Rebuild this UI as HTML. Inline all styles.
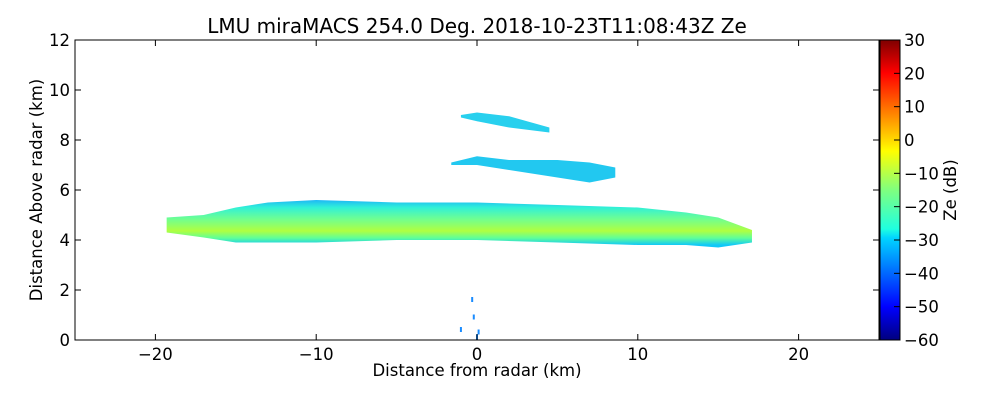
<!DOCTYPE html>
<html><head><meta charset="utf-8"><style>
body{margin:0;background:#fff}
svg text{font-family:"DejaVu Sans","Liberation Sans",sans-serif;fill:#000}
</style></head><body>
<svg id="chart" width="1000" height="400" viewBox="0 0 1000 400">
<defs>
<linearGradient id="jet" x1="0" y1="1" x2="0" y2="0">
<stop offset="0" stop-color="#00007f"/><stop offset="0.11" stop-color="#0000ff"/>
<stop offset="0.34" stop-color="#00d4ff"/><stop offset="0.37" stop-color="#1fffe0"/>
<stop offset="0.5" stop-color="#7fff7f"/><stop offset="0.63" stop-color="#ffff00"/>
<stop offset="0.66" stop-color="#ffe000"/>
<stop offset="0.89" stop-color="#ff0000"/><stop offset="1" stop-color="#7f0000"/>
</linearGradient>
<linearGradient id="band" gradientUnits="userSpaceOnUse" x1="0" y1="198" x2="0" y2="245">
<stop offset="0" stop-color="#1aa8ff"/><stop offset="0.2" stop-color="#30f0d8"/>
<stop offset="0.45" stop-color="#70ff90"/><stop offset="0.7" stop-color="#b0ff40"/>
<stop offset="0.85" stop-color="#60ff98"/><stop offset="1" stop-color="#10c8f8"/>
</linearGradient>
</defs>
<g id="marks"></g>
<g id="axes"></g>
</svg>
<script>
const xTicks=[-20,-10,0,10,20];
const yTicks=[0,2,4,6,8,10,12];
const cbTicks=[-60,-50,-40,-30,-20,-10,0,10,20,30];
// layers: x (km), top and bottom height (km)
const bandX=[-19.3,-17,-15,-13,-10,-5,0,5,10,13,15,17.1];
const bandTop=[4.9,5.0,5.3,5.5,5.6,5.5,5.5,5.4,5.3,5.1,4.9,4.4];
const bandBot=[4.3,4.1,3.9,3.9,3.9,4.0,4.0,3.9,3.8,3.8,3.7,3.9];
const l1X=[-1.6,0,2,5,7,8.6];
const l1Top=[7.1,7.35,7.2,7.2,7.1,6.9];
const l1Bot=[7.0,7.0,6.8,6.5,6.3,6.5];
const l2X=[-1,0,2,4.5];
const l2Top=[9.0,9.1,8.95,8.5];
const l2Bot=[8.9,8.75,8.5,8.3];
const speckX=[-0.3,-0.2,0.1,-1.0,0.0];
const speckY=[1.6,0.9,0.3,0.4,0.1];

const L=75,R=879,T=40,B=340;
const sx=v=>L+(v+25)/50*(R-L);
const sy=v=>B-v/12*(B-T);
const cy=v=>B-(v+60)/90*(B-T);
const NS='http://www.w3.org/2000/svg';
function mk(tag,attrs,parent){const e=document.createElementNS(NS,tag);for(const k in attrs)e.setAttribute(k,attrs[k]);parent.appendChild(e);return e;}
const marks=document.getElementById('marks'),axes=document.getElementById('axes');
function layer(xs,tops,bots,fill,name){
  let p=xs.map((x,i)=>sx(x)+','+sy(tops[i]));
  for(let i=xs.length-1;i>=0;i--)p.push(sx(xs[i])+','+sy(bots[i]));
  const e=mk('polygon',{points:p.join(' '),fill:fill},marks);
  
  
}
layer(bandX,bandTop,bandBot,'url(#band)','main-echo-layer');
layer(l1X,l1Top,l1Bot,'#22c8f0','echo-layer-7km');
layer(l2X,l2Top,l2Bot,'#28d0ee','echo-layer-9km');
speckX.forEach((x,i)=>{const e=mk('rect',{x:sx(x)-1,y:sy(speckY[i])-3,width:2,height:5,fill:'#1a8cff'},marks);
  
  });

const fr=mk('rect',{x:L,y:T,width:R-L,height:B-T,fill:'none',stroke:'#000','stroke-width':1},axes);

xTicks.forEach(v=>{const x=sx(v);
  mk('line',{x1:x,y1:B,x2:x,y2:B-6,stroke:'#000'},axes);
  mk('line',{x1:x,y1:T,x2:x,y2:T+6,stroke:'#000'},axes);
  const t=mk('text',{x:x,y:B+20,'font-size':16.5,'text-anchor':'middle'},axes);t.textContent=(v<0?'\u2212'+(-v):v);
  });
yTicks.forEach(v=>{const y=sy(v);
  mk('line',{x1:L,y1:y,x2:L+6,y2:y,stroke:'#000'},axes);
  mk('line',{x1:R,y1:y,x2:R-6,y2:y,stroke:'#000'},axes);
  const t=mk('text',{x:L-5,y:y+6,'font-size':16.5,'text-anchor':'end'},axes);t.textContent=v;
  });
const cb=mk('rect',{x:880,y:T,width:20,height:B-T,fill:'url(#jet)',stroke:'#000'},axes);

cbTicks.forEach(v=>{const y=cy(v);
  mk('line',{x1:894,y1:y,x2:900,y2:y,stroke:'#000'},axes);
  const t=mk('text',{x:904,y:y+6,'font-size':16.5},axes);t.textContent=(v<0?'\u2212'+(-v):v);
  });
function txt(s,attrs,name){const t=mk('text',attrs,axes);t.textContent=s;}
txt('LMU miraMACS 254.0 Deg. 2018-10-23T11:08:43Z  Ze',{x:477,y:33,'font-size':20,'text-anchor':'middle','xml:space':'preserve'},'chart-title');
txt('Distance from radar (km)',{x:477,y:376,'font-size':16.5,'text-anchor':'middle'},'x-axis-title');
txt('Distance Above radar  (km)',{x:0,y:0,'font-size':16.5,'text-anchor':'middle','xml:space':'preserve',transform:'translate(42,190) rotate(-90)'},'y-axis-title');
txt('Ze (dB)',{x:0,y:0,'font-size':16.5,'text-anchor':'middle',transform:'translate(956,190) rotate(-90)'},'colorbar-title');
</script>
</body></html>
